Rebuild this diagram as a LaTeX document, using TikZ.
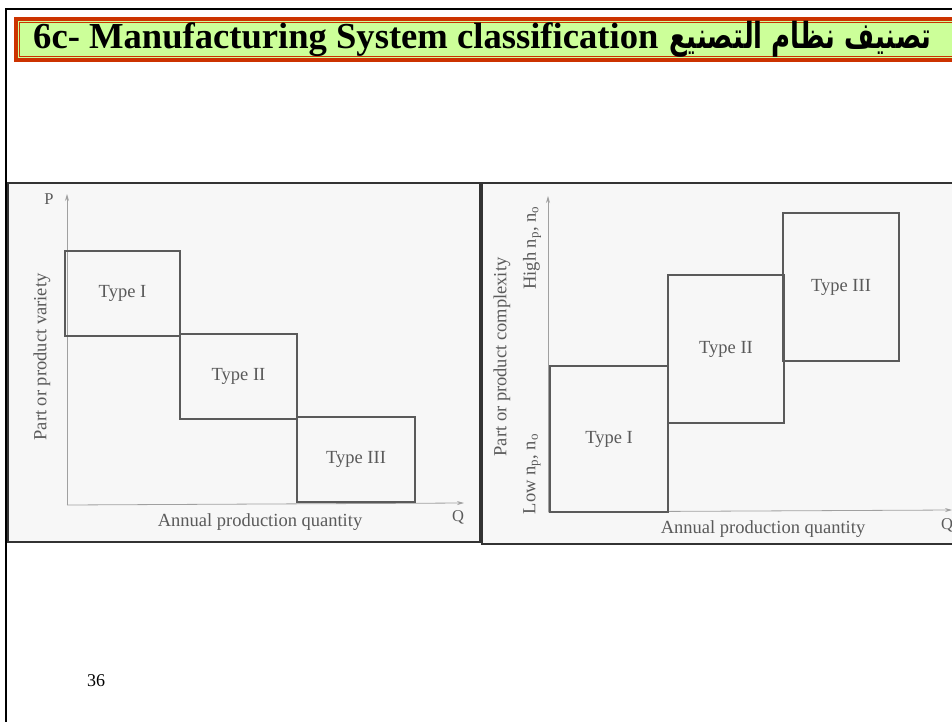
\documentclass[tikz,border=0pt]{standalone}
\usepackage{fontspec}
\setmainfont{Liberation Serif}
\newfontfamily\arabicfont[Script=Arabic]{DejaVu Sans}
\TeXXeTstate=1
\usetikzlibrary{arrows.meta}
\definecolor{titlered}{HTML}{CC3300}
\definecolor{titlegreen}{HTML}{CCFF99}
\definecolor{photobg}{HTML}{F7F7F7}
\definecolor{inkgray}{HTML}{5A5A5A}
\definecolor{axisgray}{HTML}{A0A0A0}
\tikzset{
  typebox/.style={draw=inkgray, line width=1.8pt, inner sep=0pt, outer sep=0pt,
    text=inkgray, font=\fontsize{18.5}{20}\selectfont},
  axislabel/.style={text=inkgray, inner sep=0pt, font=\fontsize{18.5}{20}\selectfont},
  sidelabel/.style={text=inkgray, inner sep=0pt, rotate=90, font=\fontsize{18.5}{20}\selectfont},
  axisline/.style={draw=axisgray, line width=0.8pt, -{Stealth[length=7pt,width=4pt]}},
  photo/.style={fill=photobg, draw=black!80, line width=1.5pt},
}

\begin{document}
\begin{tikzpicture}[x=1pt, y=-1pt]
			%%%%% SLIDE %%%%%
			
			\clip (0,0) rectangle (952,722);
			\fill[white] (0,0) rectangle (952,722);
			\draw[line width=2pt] (6,730) -- (6,9) -- (960,9);
			
			\fill[titlered] (14,17) rectangle (960,62);
			\fill[titlegreen] (18,21) rectangle (960,58);
			\draw[titlered, line width=1pt] (19.5,22.5) rectangle (962,56.5);
			\node[anchor=base west, inner sep=0pt, font=\bfseries\fontsize{36.6}{40}\selectfont] (title) at (33,49) {6c- Manufacturing System classification};
			\node[anchor=base east, inner sep=0pt, font=\bfseries\fontsize{36}{40}\selectfont] (titlear) at (932,49) {\scalebox{0.72}[1]{\arabicfont\beginR تصنيف نظام التصنيع\endR}};
			
			%%%%% LEFT CHART %%%%%
			
			\draw[photo] (8,183) rectangle (480,542);
			
			\coordinate (lO) at (67,505);
			\coordinate (lP) at (67,194);
			\coordinate (lQ) at (464,503);
			\draw[axisline] (lO) -- (lP);
			\draw[axisline] (lO) -- (lQ);
			
			\node[typebox, minimum width=115pt, minimum height=85pt] (lone) at (122.5,293.5) {Type I};
			\node[typebox, minimum width=117pt, minimum height=85pt] (ltwo) at (238.5,376.5) {Type II};
			\node[typebox, minimum width=118pt, minimum height=85pt] (lthree) at (356,459.5) {Type III};
			
			\node[axislabel, font=\fontsize{16.5}{18}\selectfont] (lPlab) at (49,199) {P};
			\node[axislabel, font=\fontsize{16.5}{18}\selectfont] (lQlab) at (458,517) {Q};
			\node[axislabel] (lxlab) at (260,522) {Annual production quantity};
			\node[sidelabel] (lylab) at (42,357) {Part or product variety};
			
			%%%%% RIGHT CHART %%%%%
			
			\draw[photo] (482,183) rectangle (962,544);
			
			\coordinate (rO) at (548,512);
			\coordinate (rP) at (548,196);
			\coordinate (rQ) at (952,510);
			\draw[axisline] (rO) -- (rP);
			\draw[axisline] (rO) -- (rQ);
			
			\node[typebox, minimum width=118pt, minimum height=146pt] (rone) at (609,439) {Type I};
			\node[typebox, minimum width=116pt, minimum height=148pt] (rtwo) at (726,349) {Type II};
			\node[typebox, minimum width=116pt, minimum height=148pt] (rthree) at (841,287) {Type III};
			
			\node[axislabel, font=\fontsize{16.5}{18}\selectfont] (rQlab) at (947,525) {Q};
			\node[axislabel] (rxlab) at (763,529) {Annual production quantity};
			\node[sidelabel] (rylab) at (502,357) {Part or product complexity};
			\node[sidelabel] (rhigh) at (532,248) {High n\textsubscript{p}, n\textsubscript{o}};
			\node[sidelabel] (rlow) at (532,474) {Low n\textsubscript{p}, n\textsubscript{o}};
			
			%%%%% PAGE %%%%%
			
			\node[inner sep=0pt, font=\fontsize{18}{20}\selectfont] (pagenum) at (96,681) {36};
			
			%%%%% END %%%%%
		\end{tikzpicture}
\end{document}
